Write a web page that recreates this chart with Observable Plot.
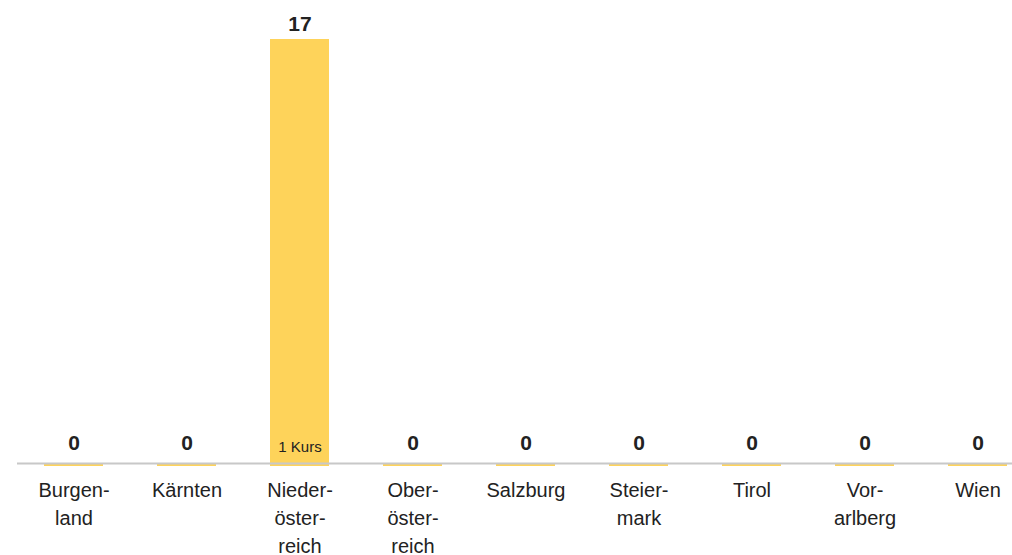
<!DOCTYPE html>
<html>
<head>
<meta charset="utf-8">
<script src="https://cdn.jsdelivr.net/npm/d3@7"></script>
<script src="https://cdn.jsdelivr.net/npm/@observablehq/plot@0.6"></script>
<style>
  html, body { margin: 0; padding: 0; background: #fff; }
  #chart { width: 1012px; height: 555px; overflow: hidden; }
</style>
</head>
<body>
<div id="chart"></div>
<script>
const regions = ["Burgenland", "Kärnten", "Niederösterreich", "Oberösterreich", "Salzburg", "Steiermark", "Tirol", "Vorarlberg", "Wien"];
const tickLabels = ["Burgen-\nland", "Kärnten", "Nieder-\nöster-\nreich", "Ober-\nöster-\nreich", "Salzburg", "Steier-\nmark", "Tirol", "Vor-\narlberg", "Wien"];
const values = [0, 0, 17, 0, 0, 0, 0, 0, 0];
const notes = ["", "", "1 Kurs", "", "", "", "", "", ""];

const data = regions.map((r, i) => ({region: r, value: values[i], note: notes[i], label: tickLabels[i]}));
const labelOf = new Map(data.map(d => [d.region, d.label]));

const yellow = "#fed35a";
const ink = "#222222";

const chart = Plot.plot({
  width: 1012,
  height: 555,
  marginTop: 39,
  marginBottom: 92,
  marginLeft: 17,
  marginRight: 0,
  style: {fontFamily: "'Liberation Sans', Arial, sans-serif", background: "white"},
  x: {domain: regions, range: [44, 1007.5], paddingInner: 0.478, paddingOuter: 0, label: null},
  y: {domain: [0, 17], axis: null},
  marks: [
    Plot.barY(data, {x: "region", y: "value", fill: yellow}),
    Plot.tickY(data, {x: "region", y: 0, stroke: yellow, strokeWidth: 2, dy: 1.5}),
    Plot.ruleY([0], {stroke: "#c8c8c8", strokeWidth: 2}),
    Plot.text(data.filter(d => !d.note), {x: "region", y: "value", text: d => String(d.value), lineAnchor: "bottom", fontSize: 21, fontWeight: "bold", fill: ink, dy: -14}),
    Plot.text(data.filter(d => d.note), {x: "region", y: "value", text: d => String(d.value), lineAnchor: "bottom", dy: -9, fontSize: 21, fontWeight: "bold", fill: ink}),
    Plot.text(data.filter(d => d.note), {x: "region", y: 0, text: "note", lineAnchor: "bottom", dy: -12, fontSize: 15, fill: ink}),
    Plot.axisX({tickSize: 0, tickPadding: 14, fontSize: 20, lineHeight: 1.4, fill: ink, tickFormat: d => labelOf.get(d)})
  ]
});
document.getElementById("chart").appendChild(chart);
</script>
</body>
</html>
